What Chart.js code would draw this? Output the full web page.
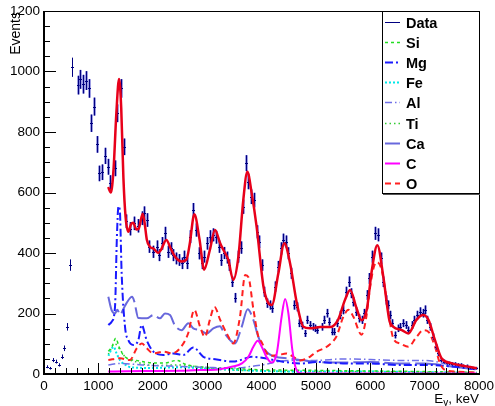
<!DOCTYPE html>
<html lang="en">
<head>
<meta charset="UTF-8">
<title>Gamma spectrum fit</title>
<script src="https://cdn.jsdelivr.net/npm/chart.js@4"></script>
<style>
  body { margin: 0; background: #fff; }
  canvas { display: block; }
</style>
</head>
<body>
<canvas id="spectrum" width="495" height="406"></canvas>
<script>
// measured spectrum: energy (keV) and counts per bin
const dataE = [50, 110, 170, 215, 275, 325, 375, 425, 470, 520, 620, 670, 720, 770, 820, 870, 920, 970, 1020, 1065,
  1115, 1170, 1215, 1305, 1350, 1420, 1470, 1510, 1580, 1655, 1720, 1795, 1830, 1890, 1940, 2010, 2070, 2120, 2175, 2225,
  2275, 2330, 2380, 2430, 2485, 2530, 2580, 2635, 2685, 2745, 2795, 2850, 2900, 2950, 3005, 3055, 3100, 3160, 3210, 3260,
  3310, 3360, 3410, 3465, 3515, 3565, 3615, 3665, 3715, 3760, 3810, 3860, 3910, 3955, 4005, 4050, 4105, 4155, 4200, 4250,
  4300, 4355, 4400, 4450, 4495, 4545, 4600, 4650, 4695, 4750, 4800, 4845, 4890, 4940, 4985, 5025, 5105, 5150, 5200, 5250,
  5290, 5340, 5395, 5445, 5495, 5550, 5600, 5645, 5690, 5740, 5795, 5840, 5890, 5935, 5985, 6025, 6090, 6150, 6195, 6240,
  6290, 6320, 6365, 6405, 6455, 6505, 6550, 6610, 6650, 6700, 6760, 6810, 6865, 6915, 6965, 7005, 7050, 7100, 7150, 7205,
  7255, 7300, 7355, 7405, 7455, 7500, 7560, 7610, 7670, 7710, 7775, 7835, 7895, 7940];
const dataN = [24, 19, 46, 41, 30, 57, 85, 156, 360, 1014, 955, 974, 958, 970, 944, 829, 884, 759, 663, 667,
  721, 685, 632, 680, 862, 944, 751, 505, 480, 498, 490, 515, 531, 509, 421, 404, 421, 393, 432, 465,
  404, 415, 393, 382, 377, 366, 388, 366, 454, 542, 476, 399, 366, 388, 432, 454, 460, 452, 421, 377,
  400, 385, 360, 305, 252, 388, 418, 553, 697, 636, 586, 575, 470, 437, 360, 272, 234, 228, 217, 289,
  355, 415, 443, 437, 399, 333, 228, 222, 168, 160, 134, 179, 162, 156, 151, 145, 156, 179, 201, 173,
  140, 140, 168, 195, 212, 272, 305, 267, 239, 206, 184, 179, 201, 261, 316, 388, 465, 460, 382, 305,
  245, 228, 195, 168, 129, 151, 156, 168, 162, 145, 162, 179, 195, 206, 201, 212, 179, 156, 123, 90,
  68, 46, 41, 37, 35, 33, 33, 30, 30, 26, 26, 22, 19, 19];

// total fit
const fitE = [1180, 1230, 1280, 1330, 1380, 1420, 1460, 1500, 1550, 1600, 1640, 1700, 1740, 1815, 1850, 1890, 1950, 2010, 2100, 2150,
  2250, 2330, 2410, 2530, 2620, 2680, 2765, 2860, 2945, 3050, 3145, 3240, 3300, 3390, 3480, 3575, 3665, 3740, 3820, 3910,
  4035, 4110, 4190, 4310, 4420, 4525, 4650, 4770, 4890, 5080, 5260, 5410, 5535, 5630, 5740, 5840, 5935, 6030, 6130, 6240,
  6350, 6425, 6580, 6700, 6850, 6975, 7070, 7190, 7310, 7500, 7740, 7960];
const fitN = [618, 600, 680, 860, 975, 880, 650, 520, 470, 495, 500, 478, 480, 530, 500, 445, 420, 415, 400, 410,
  443, 415, 388, 372, 378, 430, 528, 445, 345, 410, 476, 432, 410, 377, 311, 388, 575, 669, 597, 487,
  290, 240, 228, 333, 432, 366, 234, 156, 151, 155, 155, 180, 245, 278, 222, 178, 212, 344, 426, 322,
  179, 156, 145, 134, 179, 195, 179, 112, 52, 35, 26, 19];

// fit components per element
const siE = [1183, 1250, 1320, 1380, 1450, 1550, 1700, 1900, 2200, 2450, 2600, 3000, 3500, 4000, 5000, 6000, 7000, 7960];
const siN = [75, 90, 118, 90, 65, 50, 45, 38, 36, 45, 32, 22, 18, 14, 12, 10, 8, 5];

const mgE = [1183, 1245, 1306, 1340, 1370, 1395, 1428, 1490, 1551, 1643, 1735, 1796, 1888, 2011, 2195, 2379, 2563, 2746, 2930, 3176,
  3482, 3650, 3820, 4066, 4371, 4739, 5000, 5500, 6000, 6500, 7000, 7500, 7960];
const mgN = [162, 173, 222, 450, 555, 540, 333, 156, 112, 96, 112, 162, 112, 74, 63, 68, 63, 88, 57, 48,
  41, 48, 57, 52, 41, 35, 40, 35, 35, 30, 30, 25, 15];

const feE = [1183, 1280, 1330, 1400, 1500, 1600, 2000, 2500, 3000, 3500, 4000, 5000, 6000, 7000, 7960];
const feN = [60, 90, 70, 45, 30, 22, 20, 22, 18, 14, 10, 8, 8, 6, 4];

const alE = [1183, 1400, 1800, 2500, 3000, 3500, 4000, 4500, 5000, 5500, 6000, 6500, 7000, 7500, 7960];
const alN = [30, 35, 30, 25, 22, 20, 30, 45, 45, 50, 48, 45, 45, 30, 20];

const tiE = [1183, 1300, 1400, 1500, 1700, 2000, 2500, 3000, 4000, 5000, 6000, 7000, 7960];
const tiN = [65, 100, 80, 55, 40, 28, 30, 18, 10, 8, 8, 6, 4];

const caE = [1183, 1245, 1306, 1350, 1400, 1460, 1520, 1620, 1660, 1735, 1890, 2011, 2133, 2225, 2317, 2409, 2532, 2654, 2746, 2869,
  2992, 3114, 3237, 3300, 3421, 3513, 3636, 3746, 3850, 3942, 4066, 4248, 4493, 4739, 5000, 5500, 6000, 6500, 7000, 7500, 7960];
const caN = [255, 210, 200, 212, 196, 215, 235, 255, 240, 185, 184, 195, 184, 200, 195, 160, 145, 168, 151, 145,
  134, 151, 158, 140, 112, 101, 156, 214, 179, 123, 79, 57, 52, 46, 40, 38, 40, 35, 35, 25, 15];

const cE = [1183, 1500, 2000, 2500, 2870, 3150, 3450, 3640, 3760, 3850, 3930, 4000, 4095, 4187, 4280, 4370, 4435, 4495, 4567, 4640,
  4740, 6000, 7960];
const cN = [8, 9, 10, 11, 13, 14, 24, 35, 57, 90, 110, 92, 55, 38, 68, 189, 248, 200, 80, 15,
  2, 2, 2];

const oE = [1183, 1400, 1580, 1705, 1800, 1890, 2010, 2200, 2350, 2500, 2650, 2765, 2870, 2960, 3050, 3135, 3240, 3360, 3480, 3605,
  3700, 3760, 3850, 3940, 4003, 4100, 4157, 4300, 4460, 4600, 4710, 4890, 5015, 5200, 5380, 5505, 5600, 5690, 5840, 5920,
  6000, 6060, 6120, 6210, 6302, 6424, 6548, 6700, 6853, 6976, 7068, 7191, 7283, 7375, 7600, 7960];
const oN = [46, 52, 46, 85, 101, 85, 68, 74, 68, 85, 134, 212, 156, 123, 179, 222, 179, 134, 101, 190,
  327, 320, 215, 125, 105, 68, 60, 62, 68, 55, 45, 57, 74, 90, 125, 189, 212, 189, 130, 180,
  290, 350, 370, 344, 245, 118, 101, 90, 123, 145, 140, 90, 35, 13, 8, 5];

const xTicks = [0, 1000, 2000, 3000, 4000, 5000, 6000, 7000, 8000];
const yTicks = [0, 200, 400, 600, 800, 1000, 1200];

const pts = (xs, ys) => xs.map((x, i) => ({ x: x, y: ys[i] }));

function curve(label, xs, ys, color, dash, width, order) {
  return {
    label: label,
    data: pts(xs, ys),
    borderColor: color,
    borderDash: dash,
    borderWidth: width,
    pointRadius: 0,
    fill: false,
    cubicInterpolationMode: 'monotone',
    order: order
  };
}

const FONT = '"Liberation Sans", Arial, sans-serif';

// error bars and shaded boxes for the measured points
const errorBars = {
  id: 'errorBars',
  afterDatasetDraw(chart, args) {
    const ds = chart.data.datasets[args.index];
    if (ds.label !== 'Data') return;
    const { ctx, scales: { x, y }, chartArea: a } = chart;
    ctx.save();
    ctx.beginPath();
    ctx.rect(a.left, a.top, a.right - a.left, a.bottom - a.top);
    ctx.clip();
    ds.data.forEach(p => {
      const px = Math.round(x.getPixelForValue(p.x));
      const err = Math.sqrt(p.y);
      const top = y.getPixelForValue(p.y + err);
      const bot = y.getPixelForValue(p.y - err);
      const py = Math.round(y.getPixelForValue(p.y));
      if (p.x > 580) {
        ctx.fillStyle = 'rgba(95, 95, 210, 0.6)';
        ctx.fillRect(px - 1, top, 3, bot - top);
      }
      ctx.strokeStyle = '#000080';
      ctx.lineWidth = 1;
      ctx.beginPath();
      ctx.moveTo(px + 0.5, top);
      ctx.lineTo(px + 0.5, bot);
      ctx.moveTo(px - 1, py + 0.5);
      ctx.lineTo(px + 2, py + 0.5);
      ctx.stroke();
    });
    ctx.restore();
  }
};

// frame, ticks, labels and axis titles
const axesFrame = {
  id: 'axesFrame',
  afterDraw(chart) {
    const { ctx, scales: { x, y }, chartArea: a } = chart;
    ctx.save();
    ctx.strokeStyle = '#000';
    ctx.lineWidth = 1;
    ctx.beginPath();
    ctx.moveTo(a.left, a.top + 0.5);
    ctx.lineTo(a.right + 0.5, a.top + 0.5);
    ctx.lineTo(a.right + 0.5, a.bottom);
    ctx.stroke();

    ctx.lineWidth = 2;
    ctx.beginPath();
    ctx.moveTo(a.left, a.top);
    ctx.lineTo(a.left, a.bottom);
    ctx.lineTo(a.right + 1, a.bottom);
    ctx.stroke();

    // y ticks
    ctx.lineWidth = 1;
    ctx.beginPath();
    for (let v = 0; v <= 1200; v += 50) {
      const py = Math.round(y.getPixelForValue(v)) + 0.5;
      const len = v % 200 === 0 ? 12 : 6;
      ctx.moveTo(a.left, py);
      ctx.lineTo(a.left + len, py);
    }
    // x ticks
    for (let v = 0; v <= 8000; v += 200) {
      const px = Math.round(x.getPixelForValue(v)) + 0.5;
      const len = v % 1000 === 0 ? 11 : 6;
      ctx.moveTo(px, a.bottom);
      ctx.lineTo(px, a.bottom - len);
    }
    ctx.stroke();

    ctx.fillStyle = '#000';
    ctx.font = '13.5px ' + FONT;
    ctx.textAlign = 'right';
    ctx.textBaseline = 'middle';
    yTicks.forEach(v => ctx.fillText(String(v), a.left - 4, y.getPixelForValue(v)));
    ctx.textAlign = 'center';
    ctx.textBaseline = 'alphabetic';
    xTicks.forEach(v => ctx.fillText(String(v), x.getPixelForValue(v), a.bottom + 16));

    // y title
    ctx.save();
    ctx.translate(20, a.top + 1);
    ctx.rotate(-Math.PI / 2);
    ctx.textAlign = 'right';
    ctx.font = '14px ' + FONT;
    ctx.fillText('Events', 0, 0);
    ctx.restore();

    // x title: E with gamma subscript
    ctx.textAlign = 'left';
    const base = 403;
    ctx.font = '13.5px ' + FONT;
    const tail = ', keV';
    const wTail = ctx.measureText(tail).width;
    const wE = ctx.measureText('E').width;
    ctx.font = '10px ' + FONT;
    const wG = ctx.measureText('γ').width;
    let tx = a.right - (wE + wG + wTail);
    ctx.font = '13.5px ' + FONT;
    ctx.fillText('E', tx, base);
    ctx.font = '10px ' + FONT;
    ctx.fillText('γ', tx + wE, base + 3);
    ctx.font = '13.5px ' + FONT;
    ctx.fillText(tail, tx + wE + wG, base);

    // legend box
    const lx = 382, ly = 11, lw = 97, lh = 182;
    ctx.fillStyle = '#fff';
    ctx.fillRect(lx, ly, lw, lh);
    ctx.fillStyle = '#555';
    ctx.fillRect(lx + 1, ly + lh, lw, 2);
    ctx.strokeStyle = '#000';
    ctx.lineWidth = 1;
    ctx.strokeRect(lx + 0.5, ly + 0.5, lw, lh);

    const entries = chart.data.datasets.filter(d => d.label !== 'Fit');
    ctx.font = 'bold 14.5px ' + FONT;
    ctx.textBaseline = 'middle';
    entries.forEach((d, i) => {
      const cy = Math.round(22 + i * 20.1) + 0.5;
      ctx.save();
      if (d.label === 'Data') {
        ctx.strokeStyle = '#000080';
        ctx.setLineDash([]);
        ctx.lineWidth = 1;
      } else {
        ctx.strokeStyle = d.borderColor;
        ctx.setLineDash(d.borderDash || []);
        ctx.lineWidth = Math.min(d.borderWidth, 2);
      }
      ctx.beginPath();
      ctx.moveTo(385, cy);
      ctx.lineTo(400, cy);
      ctx.stroke();
      ctx.restore();
      ctx.fillStyle = '#000';
      ctx.fillText(d.label, 406, cy + 1);
    });
    ctx.restore();
  }
};

new Chart(document.getElementById('spectrum'), {
  type: 'line',
  data: {
    datasets: [
      { label: 'Data', data: pts(dataE, dataN), showLine: false, pointRadius: 0, order: 1 },
      curve('Si', siE, siN, '#22dd22', [3, 3], 1.5, 6),
      curve('Mg', mgE, mgN, '#1a1aff', [8, 3, 2, 3], 2, 3),
      curve('Fe', feE, feN, '#00e8e8', [2, 2], 2, 7),
      curve('Al', alE, alN, '#6f6fe8', [7, 3, 1.5, 3], 1.5, 5),
      curve('Ti', tiE, tiN, '#33cc33', [1.5, 3], 1.5, 8),
      curve('Ca', caE, caN, '#6868dc', [26, 5], 2, 4),
      curve('C', cE, cN, '#ff00ff', [], 2, 2),
      curve('O', oE, oN, '#ff2020', [6, 4], 2, 2),
      curve('Fit', fitE, fitN, '#e8001a', [], 2.5, 0)
    ]
  },
  options: {
    responsive: false,
    animation: false,
    layout: { padding: { left: 44, top: 11, right: 16, bottom: 32 } },
    plugins: { legend: { display: false }, tooltip: { enabled: false } },
    scales: {
      x: { type: 'linear', min: 0, max: 8000, display: false },
      y: { type: 'linear', min: 0, max: 1200, display: false }
    }
  },
  plugins: [errorBars, axesFrame]
});
</script>
</body>
</html>
